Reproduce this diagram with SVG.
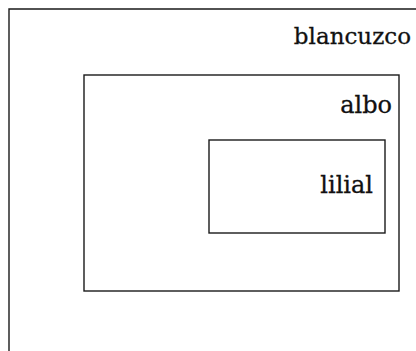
<svg xmlns="http://www.w3.org/2000/svg" width="416" height="351" viewBox="0 0 416 351">
  <style>
    .box { fill: none; stroke: #1a1a1a; stroke-width: 1.4; }
    .lbl { font-family: "DejaVu Serif", "Liberation Serif", serif; font-size: 24px; fill: #111; stroke: #111; stroke-width: 0.3; text-anchor: end; }
  </style>
  <rect width="416" height="351" fill="#ffffff"/>
  <g id="blancuzco">
    <path class="box" d="M417 9 H9 V352"/>
    <text class="lbl" x="411" y="44" style="font-size:23px">blancuzco</text>
  </g>
  <g id="albo">
    <rect class="box" x="84" y="75" width="315" height="216"/>
    <text class="lbl" x="392" y="113">albo</text>
  </g>
  <g id="lilial">
    <rect class="box" x="209" y="140" width="176" height="93"/>
    <text class="lbl" x="373" y="193">lilial</text>
  </g>
</svg>
